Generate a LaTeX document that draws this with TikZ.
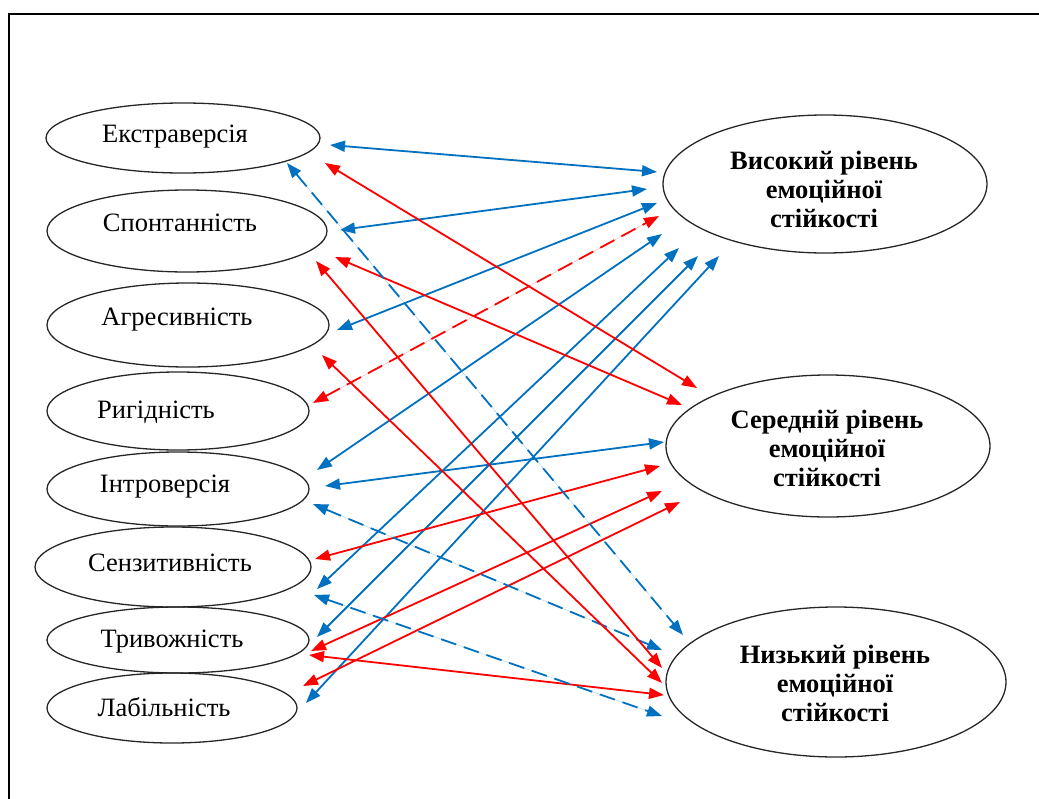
\documentclass[tikz,border=0pt]{standalone}
\usepackage{fontspec}
\setmainfont{Liberation Serif}
\usetikzlibrary{shapes.geometric,arrows.meta,calc}
\definecolor{linkblue}{HTML}{0070C0}
\definecolor{linkred}{HTML}{FF0000}
\tikzset{
  oval/.style={draw=black!85, line width=1.3pt, ellipse, inner sep=0pt},
  lbl/.style={font=\fontsize{26.5}{30}\selectfont, inner sep=0pt},
  lvl/.style={font=\fontsize{26.5}{29}\selectfont\bfseries, align=center, inner sep=0pt},
  link/.style={line width=1.8pt, {Triangle[length=15pt,width=11pt]}-{Triangle[length=15pt,width=11pt]}},
  bl/.style={link, draw=linkblue, fill=linkblue},
  rd/.style={link, draw=linkred, fill=linkred},
  dsh/.style={dash pattern=on 16pt off 8pt}
}
\begin{document}
\begin{tikzpicture}[x=1pt,y=-1pt]
\useasboundingbox (0,0) rectangle (1039,798);
% outer frame (runs off the page on the right and at the bottom)
\draw[line width=1.8pt] (9,820) -- (9,14) -- (1060,14);

% traits
\node[oval, minimum width=274pt, minimum height=70pt] (ext)  at (183,138) {};
\node[oval, minimum width=280pt, minimum height=82pt] (spon) at (187,231) {};
\node[oval, minimum width=282pt, minimum height=84pt] (aggr) at (188,325) {};
\node[oval, minimum width=262pt, minimum height=78pt] (rig)  at (178,411) {};
\node[oval, minimum width=262pt, minimum height=74pt] (intr) at (178,489) {};
\node[oval, minimum width=276pt, minimum height=80pt] (sens) at (173,567) {};
\node[oval, minimum width=262pt, minimum height=66pt] (anx)  at (178,640) {};
\node[oval, minimum width=250pt, minimum height=70pt] (lab)  at (172,708) {};

\node[lbl] (ext-t)  at (175,137) {Екстраверсія};
\node[lbl] (spon-t) at (180,223) {Спонтанність};
\node[lbl] (aggr-t) at (177,320) {Агресивність};
\node[lbl] (rig-t)  at (156,412) {Ригідність};
\node[lbl] (intr-t) at (165,487) {Інтроверсія};
\node[lbl] (sens-t) at (170,563) {Сензитивність};
\node[lbl] (anx-t)  at (172,642) {Тривожність};
\node[lbl] (lab-t)  at (164,707) {Лабільність};

% levels of emotional stability
\node[oval, minimum width=324pt, minimum height=138pt] (high) at (825,184) {};
\node[oval, minimum width=324pt, minimum height=142pt] (mid)  at (828,446) {};
\node[oval, minimum width=340pt, minimum height=150pt] (low)  at (836,682) {};

\node[lvl] (high-t) at (824,189) {Високий рівень\\емоційної\\стійкості};
\node[lvl] (mid-t)  at (827,448) {Середній рівень\\емоційної\\стійкості};
\node[lvl] (low-t)  at (835,683) {Низький рівень\\емоційної\\стійкості};

% links to the high level
\draw[bl] ($(ext)+(147,7)$)    -- ($(high)+(-168,-12)$);
\draw[bl] ($(spon)+(153,-1)$)  -- ($(high)+(-178,5)$);
\draw[bl] ($(aggr)+(149,5)$)   -- ($(high)+(-168,19)$);
\draw[rd,dsh] ($(rig)+(135,-8)$) -- ($(high)+(-166,32)$);
\draw[bl] ($(intr)+(139,-19)$) -- ($(high)+(-163,50)$);
\draw[bl] ($(sens)+(144,22)$)  -- ($(high)+(-146,64)$);
\draw[bl] ($(anx)+(139,-3)$)   -- ($(high)+(-127,72)$);
\draw[bl] ($(lab)+(134,-5)$)   -- ($(high)+(-106,72)$);

% links to the middle level
\draw[rd] ($(ext)+(142,25)$)   -- ($(mid)+(-131,-58)$);
\draw[rd] ($(spon)+(148,26)$)  -- ($(mid)+(-146,-41)$);
\draw[bl] ($(intr)+(147,-3)$)  -- ($(mid)+(-164,-4)$);
\draw[rd] ($(sens)+(142,-8)$)  -- ($(mid)+(-168,20)$);
\draw[rd] ($(anx)+(133,11)$)   -- ($(mid)+(-166,45)$);
\draw[rd] ($(lab)+(131,-22)$)  -- ($(mid)+(-148,56)$);

% links to the low level
\draw[bl,dsh] ($(ext)+(104,25)$)  -- ($(low)+(-153,-47)$);
\draw[bl,dsh] ($(intr)+(135,15)$) -- ($(low)+(-174,-32)$);
\draw[rd] ($(spon)+(129,30)$)  -- ($(low)+(-174,-14)$);
\draw[rd] ($(aggr)+(134,30)$)  -- ($(low)+(-174,1)$);
\draw[rd] ($(anx)+(131,15)$)   -- ($(low)+(-172,13)$);
\draw[bl,dsh] ($(sens)+(141,28)$) -- ($(low)+(-174,34)$);
\end{tikzpicture}
\end{document}
